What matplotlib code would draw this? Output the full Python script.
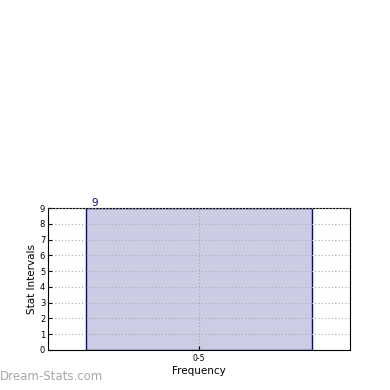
import matplotlib
matplotlib.use('Agg')
import matplotlib.pyplot as plt

categories = ['0-5']
counts = [9]
yticks = list(range(0, 10))

fig = plt.figure(figsize=(3.9, 3.9), dpi=100)
ax = fig.add_axes([0.123, 0.1026, 0.774, 0.364])

x = list(range(len(categories)))
ax.bar(x, counts, width=0.75, color='#ccccE4', edgecolor='#0a0a80', linewidth=1.0, zorder=2)
for xi, c in zip(x, counts):
    ax.text(xi - 0.375 + 0.02, c, str(c), color='#0a0a80', fontsize=7.5,
            ha='left', va='bottom')

ax.set_xlim(-0.5, 0.5)
ax.set_ylim(0, 9)
ax.set_xticks(x)
ax.set_xticklabels(categories, fontsize=5.5)
ax.set_yticks(yticks)
ax.tick_params(axis='y', labelsize=6, direction='in', length=3, pad=2)
ax.tick_params(axis='x', direction='in', length=3, pad=3)
ax.grid(True, linestyle=(0, (1, 2)), color='#aaaaaa', linewidth=0.8, zorder=3)
ax.set_axisbelow(False)
ax.set_xlabel('Frequency', fontsize=7.5, labelpad=2)
ax.set_ylabel('Stat Intervals', fontsize=7.5, labelpad=2)

fig.text(0.0, 0.025, 'Dream-Stats.com', color='#a8a8a8', fontsize=8.5)

fig.savefig('out.png', dpi=100)
